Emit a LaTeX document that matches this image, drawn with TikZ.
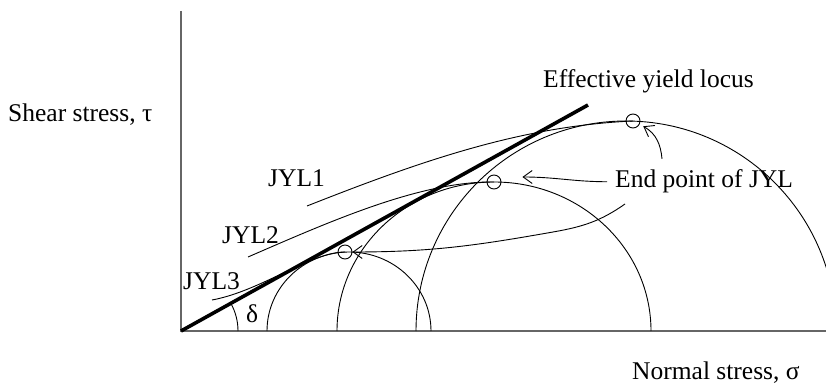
\documentclass[tikz,border=0pt]{standalone}
\usepackage{fontspec}
\setmainfont{Liberation Serif}
\usepackage{tikz}
\usetikzlibrary{arrows.meta,positioning}

\begin{document}
\begin{tikzpicture}[
  x=1pt, y=1pt,
  font=\fontsize{25.5}{30}\selectfont,
  axis/.style={black!60, line width=1.3pt},
  locus/.style={black, line width=3.6pt},
  mohr/.style={black, line width=0.9pt},
  jyl/.style={black, line width=0.9pt},
  endpt/.style={circle, draw, line width=0.9pt, minimum size=14pt, inner sep=0pt},
  ann/.style={-{Straight Barb[length=9pt,width=13pt]}, line width=0.9pt},
  lbl/.style={anchor=base west, inner sep=0pt}
]
  \useasboundingbox (-181,-52) rectangle (645,331);
  \clip (-181,-52) rectangle (645,331);

  % Axes
  \coordinate (O) at (0,0);
  \draw[axis] (0,320) -- (O) -- (645,0);
  \node[lbl] (tau)   at (-173,209) {Shear stress, τ};
  \node[lbl] (sigma) at (451,-48)  {Normal stress, σ};

  % Mohr semicircles
  \draw[mohr] (86,0)  arc[start angle=180, end angle=0, x radius=82,  y radius=79];
  \draw[mohr] (156,0) arc[start angle=180, end angle=0, x radius=157, y radius=149];
  \draw[mohr] (235,0) arc[start angle=180, end angle=0, x radius=210, y radius=210];

  % Effective yield locus and angle
  \draw[locus] (O) -- (407,226) coordinate (eyl);
  \draw[mohr] (57,0) arc[start angle=0, end angle=29, radius=57];
  \node[lbl] (delta) at (65,9)    {δ};
  \node[lbl] (eyllbl) at (362,243) {Effective yield locus};

  % End points
  \node[endpt] (mk3) at (164,79)  {};
  \node[endpt] (mk2) at (313,149) {};
  \node[endpt] (mk1) at (452,210) {};

  % Joint yield loci
  \coordinate (j1) at (126,125);
  \coordinate (j2) at (67,74);
  \coordinate (j3) at (31,31);
  \draw[jyl] (j1) .. controls (240,170) and (340,205) .. (mk1.center);
  \draw[jyl] (j2) .. controls (150,110) and (240,150) .. (mk2.center);
  \draw[jyl] (j3) .. controls (80,40) and (130,79) .. (mk3.center);
  \node[lbl] (jyl1) at (87,144) {JYL1};
  \node[lbl] (jyl2) at (41,88)  {JYL2};
  \node[lbl] (jyl3) at (2,42)   {JYL3};

  % Pointers to the end points
  \node[lbl] (endtxt) at (434,143) {End point of JYL};
  \draw[ann] ([xshift=-8pt]endtxt.west) to[out=180, in=0] ([shift={(21pt,5pt)}]mk2.east);
  \draw[ann] ([shift={(47pt,11pt)}]endtxt.north west) to[out=95, in=-30] ([shift={(5pt,0pt)}]mk1.south east);
  \draw[ann] ([shift={(10pt,-16pt)}]endtxt.base west) to[out=215, in=10] (372,99)
    to[out=190, in=0] (mk3.east);
\end{tikzpicture}
\end{document}
